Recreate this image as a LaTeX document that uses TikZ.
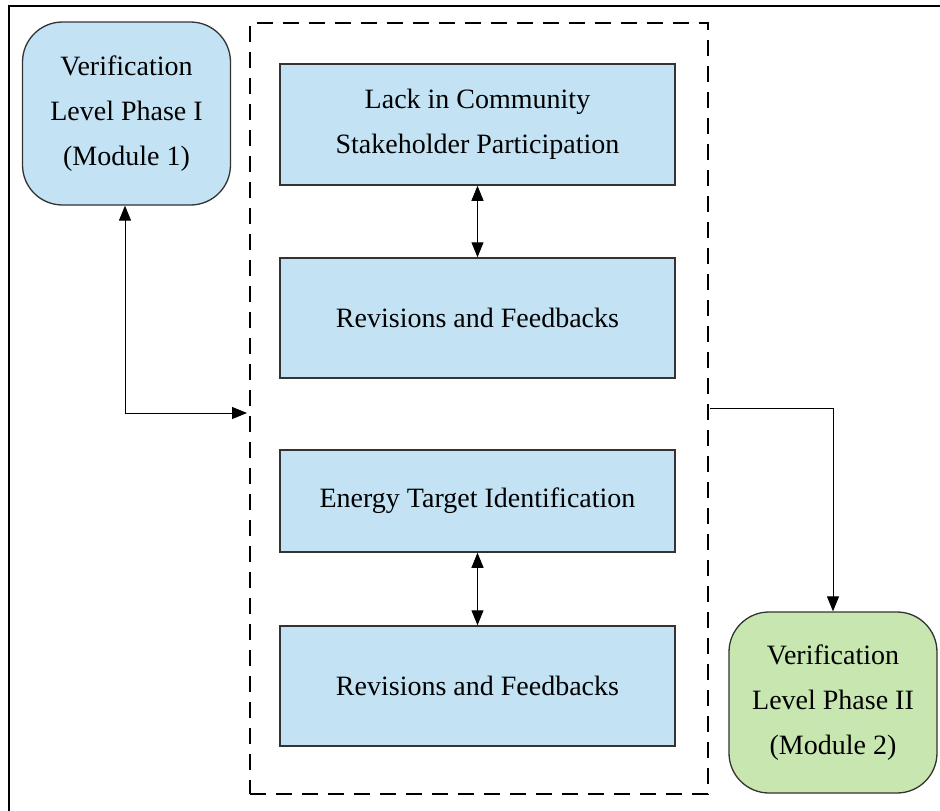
\documentclass[tikz,border=0pt]{standalone}
\usepackage{fontspec}
\setmainfont{Liberation Serif}
\usetikzlibrary{arrows.meta,calc}
\definecolor{boxblue}{HTML}{C3E3F5}
\definecolor{boxgreen}{HTML}{C7E6B0}
\definecolor{edge}{HTML}{333333}
\begin{document}
\begin{tikzpicture}[x=1pt,y=-1pt,
  txt/.style={font=\fontsize{28}{45}\selectfont, align=center, text=black, inner sep=0pt},
  modbox/.style={txt, draw=edge, line width=1.3pt, rounded corners=40pt},
  stepbox/.style={txt, draw=edge, line width=1.5pt, fill=boxblue, minimum width=395pt},
  conn/.style={draw=black, line width=1pt},
  tip/.style={-{Triangle[length=15pt,width=12pt]}},
  dtip/.style={{Triangle[length=15pt,width=12pt]}-{Triangle[length=15pt,width=12pt]}}
]
\useasboundingbox (0,0) rectangle (940,811);
\fill[white] (0,0) rectangle (940,811);
% outer frame (top and left visible)
\draw[line width=2pt, black] (940,6) -- (9,6) -- (9,811);

\node[modbox, fill=boxblue, minimum width=208pt, minimum height=183pt] (m1) at (126.5,113.5)
  {Verification\\Level Phase I\\(Module 1)};
\node[modbox, fill=boxgreen, minimum width=208pt, minimum height=181pt] (m2) at (833,702.5)
  {Verification\\Level Phase II\\(Module 2)};

\node[draw=black, line width=2pt, dash pattern=on 16pt off 10pt, minimum width=458pt, minimum height=771pt, inner sep=0pt] (grp) at (479,408.5) {};

\node[stepbox, minimum height=121pt] (b1) at (477.5,124.5) {Lack in Community\\Stakeholder Participation};
\node[stepbox, minimum height=120pt] (b2) at (477.5,318) {Revisions and Feedbacks};
\node[stepbox, minimum height=102pt] (b3) at (477.5,501) {Energy Target Identification};
\node[stepbox, minimum height=120pt] (b4) at (477.5,686) {Revisions and Feedbacks};

\draw[conn, dtip] (b1.south) -- (b2.north);
\draw[conn, dtip] (b3.south) -- (b4.north);

\coordinate (gin) at ($(grp.west)+(-2,4.5)$);
\draw[conn, dtip] ([xshift=-1.5pt]m1.south) |- (gin);
\coordinate (gout) at ($(grp.east)+(1,0)$);
\draw[conn, tip] (gout) -| (m2.north);
\end{tikzpicture}
\end{document}
